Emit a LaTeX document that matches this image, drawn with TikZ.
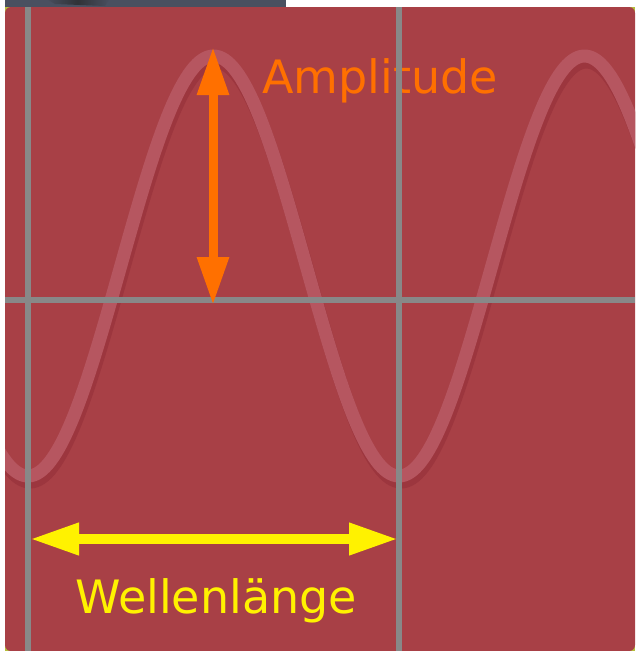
\documentclass[tikz,border=0pt]{standalone}
\usepackage{fontspec}
\setmainfont{DejaVu Sans}
\usetikzlibrary{arrows.meta}
\definecolor{bgred}{RGB}{168,64,70}
\definecolor{stripgray}{RGB}{74,80,96}
\definecolor{cornerylw}{RGB}{180,190,60}
\definecolor{wavepink}{RGB}{182,86,96}
\definecolor{waveshadow}{RGB}{156,54,62}
\definecolor{gridgray}{RGB}{136,136,136}
\definecolor{amporange}{RGB}{255,112,0}
\definecolor{wlyellow}{RGB}{255,242,0}
\tikzset{
  gridline/.style={draw=gridgray, line width=6pt},
  wavestroke/.style={line width=13pt},
  label/.style={inner sep=0pt, anchor=base west, font=\fontsize{46}{46}\selectfont},
  amparrow/.style={draw=amporange, line width=9pt, {Triangle[length=48pt,width=30pt]}-{Triangle[length=48pt,width=30pt]}},
  wlarrow/.style={draw=wlyellow, line width=10pt, {Triangle[length=49pt,width=30pt]}-{Triangle[length=49pt,width=30pt]}}
}
\begin{document}
\begin{tikzpicture}[x=1pt,y=-1pt]
\useasboundingbox (0,0) rectangle (635,651);
\fill[white] (0,0) rectangle (635,651);
% top strip
\begin{scope}
  \clip (5,0) rectangle (286,7);
  \fill[stripgray] (5,0) rectangle (286,7);
  \shade[left color=stripgray, right color=stripgray, middle color=black!85, opacity=0.7] (45,-2) -- (110,-2) -- (105,6) -- (55,4) -- cycle;
\end{scope}
% panel
\fill[cornerylw] (5,7) rectangle (635,651);
\fill[bgred, rounded corners=6pt] (5,7) rectangle (635,651);
% wave
\begin{scope}
  \clip (5,7) rectangle (635,651);
  \draw[waveshadow, wavestroke] plot[domain=-10:650, samples=240] ({\x+2},{266+210*cos(0.970350*(\x-28))+6});
  \draw[wavepink, wavestroke] plot[domain=-10:650, samples=240] (\x,{266+210*cos(0.970350*(\x-28))});
\end{scope}
% labels
\node[label, text=amporange] (amp) at (262,93) {Amplitude};
\node[label, text=wlyellow] (wl) at (75,613) {Wellenlänge};
% grid
\coordinate (v1t) at (28,7);   \coordinate (v1b) at (28,651);
\coordinate (v2t) at (399,7);  \coordinate (v2b) at (399,651);
\coordinate (hl) at (5,300);   \coordinate (hr) at (635,300);
\draw[gridline] (v1t) -- (v1b);
\draw[gridline] (v2t) -- (v2b);
\draw[gridline] (hl) -- (hr);
% arrows
\coordinate (atop) at (213,47);
\coordinate (abot) at (213,305);
\draw[amparrow] (atop) -- (abot);
\coordinate (wleft) at (30,539);
\coordinate (wright) at (398,539);
\draw[wlarrow] (wleft) -- (wright);
\end{tikzpicture}
\end{document}
